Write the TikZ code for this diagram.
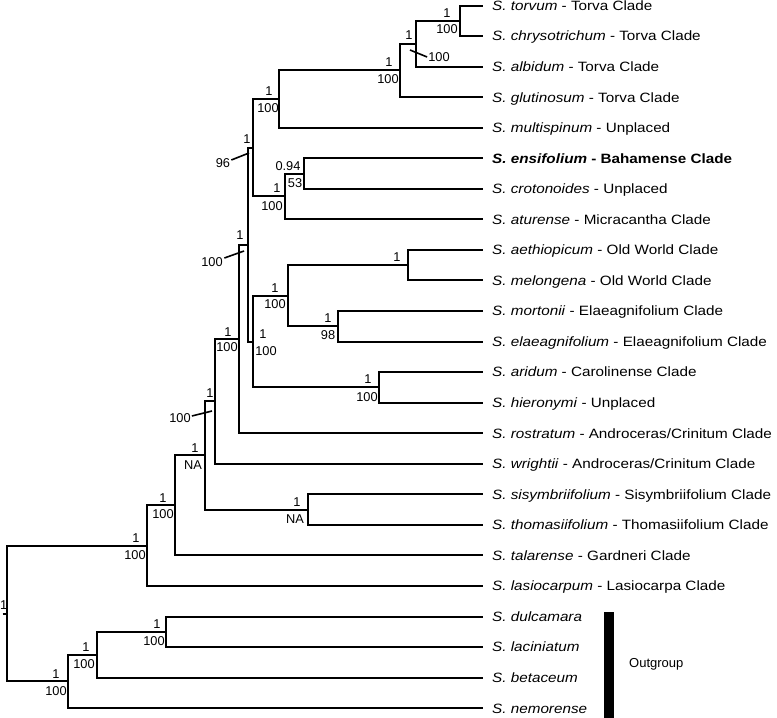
\documentclass[tikz,border=0pt]{standalone}
\usepackage{fontspec}
\setmainfont{Liberation Sans}
\newfontfamily\leaffont[FakeStretch=1.13]{Liberation Sans}
\begin{document}
\begin{tikzpicture}[x=1pt,y=-1pt,
  br/.style={line width=2pt},
  leaf/.style={anchor=west, inner xsep=9pt, inner ysep=0pt, text height=9.7pt, text depth=0pt,
               font=\leaffont\fontsize{13.5}{16}\selectfont},
  supp/.style={inner sep=0pt, text height=9pt, text depth=0pt, font=\fontsize{12.8}{14}\selectfont},
  lead/.style={line width=1.6pt}]
\useasboundingbox (0,0) rectangle (777,718);

% leaves
\node[leaf] (l0) at (483,5.5) {\textit{S. torvum} - Torva Clade};
\node[leaf] (l1) at (483,36.05) {\textit{S. chrysotrichum} - Torva Clade};
\node[leaf] (l2) at (483,66.6) {\textit{S. albidum} - Torva Clade};
\node[leaf] (l3) at (483,97.15) {\textit{S. glutinosum} - Torva Clade};
\node[leaf] (l4) at (483,127.7) {\textit{S. multispinum} - Unplaced};
\node[leaf] (l5) at (483,158.25) {\bfseries\textit{S. ensifolium} - Bahamense Clade};
\node[leaf] (l6) at (483,188.8) {\textit{S. crotonoides} - Unplaced};
\node[leaf] (l7) at (483,219.35) {\textit{S. aturense} - Micracantha Clade};
\node[leaf] (l8) at (483,249.9) {\textit{S. aethiopicum} - Old World Clade};
\node[leaf] (l9) at (483,280.45) {\textit{S. melongena} - Old World Clade};
\node[leaf] (l10) at (483,311) {\textit{S. mortonii} - Elaeagnifolium Clade};
\node[leaf] (l11) at (483,341.55) {\textit{S. elaeagnifolium} - Elaeagnifolium Clade};
\node[leaf] (l12) at (483,372.1) {\textit{S. aridum} - Carolinense Clade};
\node[leaf] (l13) at (483,402.65) {\textit{S. hieronymi} - Unplaced};
\node[leaf] (l14) at (483,433.2) {\textit{S. rostratum} - Androceras/Crinitum Clade};
\node[leaf] (l15) at (483,463.75) {\textit{S. wrightii} - Androceras/Crinitum Clade};
\node[leaf] (l16) at (483,494.3) {\textit{S. sisymbriifolium} - Sisymbriifolium Clade};
\node[leaf] (l17) at (483,524.85) {\textit{S. thomasiifolium} - Thomasiifolium Clade};
\node[leaf] (l18) at (483,555.4) {\textit{S. talarense} - Gardneri Clade};
\node[leaf] (l19) at (483,585.95) {\textit{S. lasiocarpum} - Lasiocarpa Clade};
\node[leaf] (l20) at (483,616.5) {\textit{S. dulcamara}};
\node[leaf] (l21) at (483,647.05) {\textit{S. laciniatum}};
\node[leaf] (l22) at (483,677.6) {\textit{S. betaceum}};
\node[leaf] (l23) at (483,708.15) {\textit{S. nemorense}};

% internal nodes
\coordinate (n1) at (460,20.8);
\coordinate (n2) at (416,43.7);
\coordinate (n3) at (400,70.4);
\coordinate (n4) at (279,99.05);
\coordinate (nI) at (304,173.5);
\coordinate (nH) at (285,196.4);
\coordinate (nA) at (253,147.7);
\coordinate (nF) at (408,265.2);
\coordinate (nG) at (338,326.3);
\coordinate (nD) at (288,295.7);
\coordinate (nE) at (379,387.4);
\coordinate (nC) at (253,341.6);
\coordinate (nB) at (248,244.6);
\coordinate (nK) at (239,338.9);
\coordinate (nL) at (215,401.3);
\coordinate (nS) at (308,509.6);
\coordinate (nM) at (205,455.4);
\coordinate (nN) at (175,505.4);
\coordinate (nP) at (147,545.7);
\coordinate (nT) at (166,631.8);
\coordinate (nR) at (97,654.7);
\coordinate (nQ) at (68,681.4);
\coordinate (root) at (7,613.6);
\coordinate (stub) at (2.5,613.6);

% branches
\draw[br] (n1) |- (l0.west);  \draw[br] (n1) |- (l1.west);
\draw[br] (n2) |- (n1);       \draw[br] (n2) |- (l2.west);
\draw[br] (n3) |- (n2);       \draw[br] (n3) |- (l3.west);
\draw[br] (n4) |- (n3);       \draw[br] (n4) |- (l4.west);
\draw[br] (nI) |- (l5.west);  \draw[br] (nI) |- (l6.west);
\draw[br] (nH) |- (nI);       \draw[br] (nH) |- (l7.west);
\draw[br] (nA) |- (n4);       \draw[br] (nA) |- (nH);
\draw[br] (nF) |- (l8.west);  \draw[br] (nF) |- (l9.west);
\draw[br] (nG) |- (l10.west); \draw[br] (nG) |- (l11.west);
\draw[br] (nD) |- (nF);       \draw[br] (nD) |- (nG);
\draw[br] (nE) |- (l12.west); \draw[br] (nE) |- (l13.west);
\draw[br] (nC) |- (nD);       \draw[br] (nC) |- (nE);
\draw[br] (nB) |- (nA);       \draw[br] (nB) |- (nC);
\draw[br] (nK) |- (nB);       \draw[br] (nK) |- (l14.west);
\draw[br] (nL) |- (nK);       \draw[br] (nL) |- (l15.west);
\draw[br] (nS) |- (l16.west); \draw[br] (nS) |- (l17.west);
\draw[br] (nM) |- (nL);       \draw[br] (nM) |- (nS);
\draw[br] (nN) |- (nM);       \draw[br] (nN) |- (l18.west);
\draw[br] (nP) |- (nN);       \draw[br] (nP) |- (l19.west);
\draw[br] (nT) |- (l20.west); \draw[br] (nT) |- (l21.west);
\draw[br] (nR) |- (nT);       \draw[br] (nR) |- (l22.west);
\draw[br] (nQ) |- (nR);       \draw[br] (nQ) |- (l23.west);
\draw[br] (root) |- (nP);     \draw[br] (root) |- (nQ);
\draw[br] (stub) -- (root);

% support values
\node[supp] (s1a) at (447,13) {1};      \node[supp] (s1b) at (447,29) {100};
\node[supp] (s2a) at (409,35) {1};      \node[supp] (s2b) at (439,57) {100};
\node[supp] (s3a) at (389,62) {1};      \node[supp] (s3b) at (388,79) {100};
\node[supp] (s4a) at (269,91) {1};      \node[supp] (s4b) at (268,108) {100};
\node[supp] (sAa) at (247,139) {1};     \node[supp] (sAb) at (223,163) {96};
\node[supp] (sIa) at (288,166) {0.94};  \node[supp] (sIb) at (295,183) {53};
\node[supp] (sHa) at (277,188) {1};     \node[supp] (sHb) at (272,206) {100};
\node[supp] (sFa) at (397,257) {1};
\node[supp] (sDa) at (275,288) {1};     \node[supp] (sDb) at (275,304) {100};
\node[supp] (sGa) at (328,318) {1};     \node[supp] (sGb) at (328,335) {98};
\node[supp] (sCa) at (263,334) {1};     \node[supp] (sCb) at (266,351) {100};
\node[supp] (sEa) at (368,379) {1};     \node[supp] (sEb) at (367,397) {100};
\node[supp] (sBa) at (240,235) {1};     \node[supp] (sBb) at (212,262) {100};
\node[supp] (sKa) at (228,332) {1};     \node[supp] (sKb) at (227,347) {100};
\node[supp] (sLa) at (210,393) {1};     \node[supp] (sLb) at (180,418) {100};
\node[supp] (sMa) at (195,448) {1};     \node[supp] (sMb) at (193,465) {NA};
\node[supp] (sSa) at (297,502) {1};     \node[supp] (sSb) at (295,519) {NA};
\node[supp] (sNa) at (163,498) {1};     \node[supp] (sNb) at (163,514) {100};
\node[supp] (sPa) at (136,538) {1};     \node[supp] (sPb) at (135,555) {100};
\node[supp] (sTa) at (157,624) {1};     \node[supp] (sTb) at (154,641) {100};
\node[supp] (sRa) at (86,647) {1};      \node[supp] (sRb) at (84,664) {100};
\node[supp] (sQa) at (56,674) {1};      \node[supp] (sQb) at (56,691) {100};
\node[supp] (sroot) at (3.6,605) {1};

% leader lines
\coordinate (c2) at (410,50);
\coordinate (cA) at (249,153);
\coordinate (cB) at (244,251);
\coordinate (cL) at (212,411);
\draw[lead] ([xshift=-1pt]s2b.west) -- (c2);
\draw[lead] ([xshift=1pt,yshift=3pt]sAb.east) -- (cA);
\draw[lead] ([xshift=1.5pt,yshift=4pt]sBb.east) -- (cB);
\draw[lead] ([xshift=1pt,yshift=2pt]sLb.east) -- (cL);

% outgroup bar
\fill (604,612) rectangle (614,718);
\node[supp, anchor=west, font=\fontsize{13}{15}\selectfont, text height=9.4pt] (og) at (629,663) {Outgroup};
\end{tikzpicture}
\end{document}
